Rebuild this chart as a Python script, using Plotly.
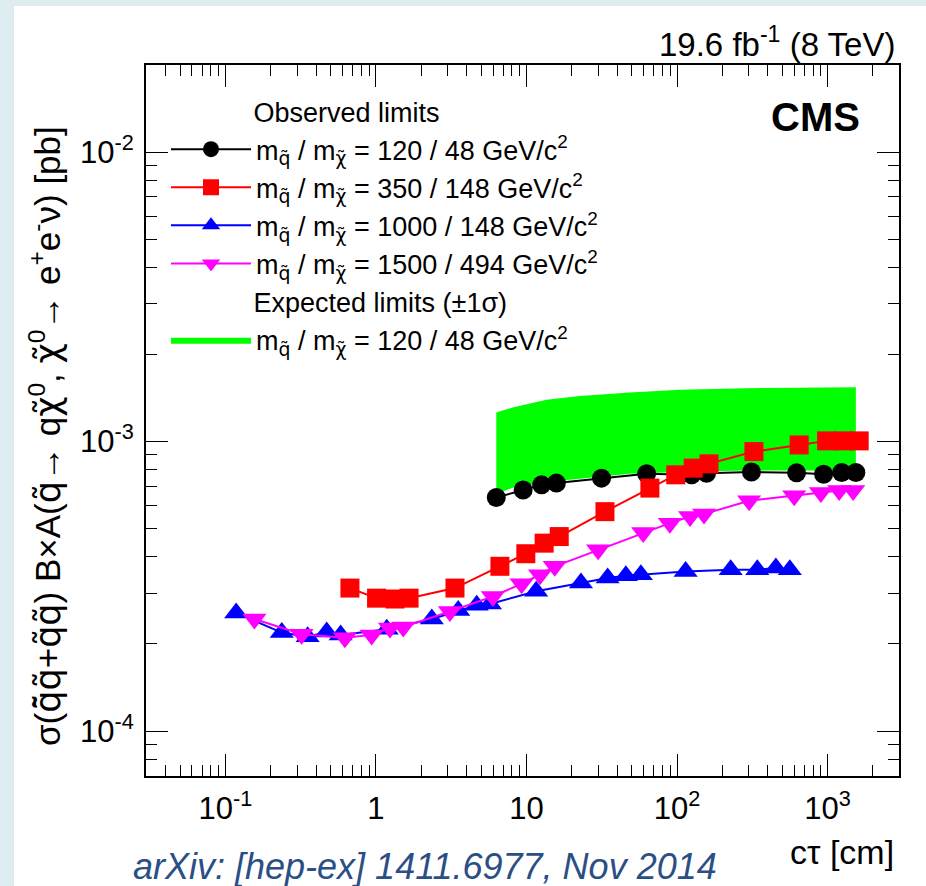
import plotly.graph_objects as go

# ---------------- data ----------------
black_x = [6.3, 9.5, 12.6, 15.8, 31.5, 62.8, 125, 157, 312, 622, 940, 1240, 1540]
black_y = [6.41e-4, 6.81e-4, 7.09e-4, 7.19e-4, 7.48e-4, 7.74e-4, 7.68e-4, 7.78e-4,
           7.85e-4, 7.80e-4, 7.72e-4, 7.82e-4, 7.82e-4]

red_x = [0.672, 1.01, 1.34, 1.66, 3.35, 6.66, 9.9, 13.1, 16.5, 33.2, 66, 98, 128, 163,
         324, 647, 984, 1268, 1620]
red_y = [3.12e-4, 2.88e-4, 2.86e-4, 2.88e-4, 3.12e-4, 3.71e-4, 4.10e-4, 4.46e-4, 4.70e-4,
         5.73e-4, 6.91e-4, 7.68e-4, 8.10e-4, 8.38e-4, 9.24e-4, 9.74e-4, 1.006e-3,
         1.006e-3, 1.006e-3]

blue_x = [0.118, 0.237, 0.352, 0.471, 0.583, 1.18, 2.35, 3.52, 4.67, 5.72, 11.6, 23.0,
          34.6, 45.7, 57.5, 114, 227, 341, 453, 561]
blue_y = [2.56e-4, 2.19e-4, 2.12e-4, 2.20e-4, 2.15e-4, 2.25e-4, 2.44e-4, 2.61e-4,
          2.72e-4, 2.75e-4, 3.04e-4, 3.25e-4, 3.38e-4, 3.44e-4, 3.47e-4, 3.56e-4,
          3.61e-4, 3.61e-4, 3.66e-4, 3.61e-4]

magenta_x = [0.156, 0.321, 0.622, 0.937, 1.24, 1.52, 3.10, 5.98, 9.28, 12.3, 15.4, 29.9,
             59.6, 89.6, 122, 151, 301, 600, 902, 1194, 1478]
magenta_y = [2.44e-4, 2.16e-4, 2.10e-4, 2.15e-4, 2.27e-4, 2.29e-4, 2.59e-4, 2.92e-4,
             3.23e-4, 3.47e-4, 3.71e-4, 4.23e-4, 4.85e-4, 5.23e-4, 5.51e-4, 5.62e-4,
             6.25e-4, 6.50e-4, 6.67e-4, 6.78e-4, 6.78e-4]

band_x = [6.3, 8.2, 13.6, 22.6, 48.6, 104, 290, 1540]
band_hi = [1.26e-3, 1.315e-3, 1.394e-3, 1.439e-3, 1.477e-3, 1.51e-3, 1.53e-3, 1.54e-3]
band_lo = [6.6e-4, 6.95e-4, 7.25e-4, 7.45e-4, 7.75e-4, 7.85e-4, 7.95e-4, 7.95e-4]

x_tickvals = [0.1, 1, 10, 100, 1000]
x_ticktext = ["10<sup>-1</sup>", "1", "10", "10<sup>2</sup>", "10<sup>3</sup>"]
y_tickvals = [1e-4, 1e-3, 1e-2]
y_ticktext = ["10<sup>-4</sup>", "10<sup>-3</sup>", "10<sup>-2</sup>"]

DJ = '<span style="font-family:DejaVu Sans">'
QT = DJ + "q\u0303</span>"
CHIT = DJ + "\u03c7\u0303</span>"
mq = "m<sub>" + QT + "</sub> / m<sub>" + CHIT + "</sub>"
names = [mq + " = 120 / 48 GeV/c<sup>2</sup>",
         mq + " = 350 / 148 GeV/c<sup>2</sup>",
         mq + " = 1000 / 148 GeV/c<sup>2</sup>",
         mq + " = 1500 / 494 GeV/c<sup>2</sup>",
         mq + " = 120 / 48 GeV/c<sup>2</sup>"]
PAD = "&nbsp;" * 11
obs_title = PAD + "Observed limits"
exp_title = PAD + "Expected limits (\u00b11\u03c3)"

FONT = "Liberation Sans, Arial, Helvetica, sans-serif"

fig = go.Figure()

# expected band (drawn first, below the lines)
fig.add_trace(go.Scatter(
    x=band_x + band_x[::-1], y=band_hi + band_lo[::-1],
    fill="toself", fillcolor="#00ff00", mode="lines", line=dict(width=0, color="#00ff00"),
    name=names[4], legendgroup="exp", legendgrouptitle_text=exp_title,
    legendrank=5, hoverinfo="skip"))

series = [
    (black_x, black_y, "#000000", "circle", 19, 1),
    (red_x, red_y, "#ff0000", "square", 19, 2),
    (blue_x, blue_y, "#0000ff", "triangle-up", 21, 3),
    (magenta_x, magenta_y, "#ff00ff", "triangle-down", 21, 4),
]
for (xs, ys, col, sym, sz, rank) in series:
    fig.add_trace(go.Scatter(
        x=xs, y=ys, mode="lines+markers", line=dict(color=col, width=2),
        marker=dict(symbol=sym, size=sz, color=col, line=dict(width=0)),
        name=names[rank - 1], legendgroup="obs", legendgrouptitle_text=obs_title,
        legendrank=rank))

axis_common = dict(
    type="log", showline=True, linewidth=2, linecolor="black", mirror="allticks",
    ticks="inside", ticklen=22, tickwidth=1, tickcolor="black", showgrid=False,
    zeroline=False, tickmode="array",
    minor=dict(ticks="inside", ticklen=11, tickwidth=1, tickcolor="black",
               dtick="D1", showgrid=False),
    tickfont=dict(family=FONT, size=31, color="black"),
)

fig.update_xaxes(**axis_common, range=[-1.527, 3.474], tickvals=x_tickvals,
                 ticktext=x_ticktext, ticklabelstandoff=4)
fig.update_yaxes(**axis_common, range=[-4.155, -1.699], tickvals=y_tickvals,
                 ticktext=y_ticktext, ticklabelstandoff=4)

L, R, T, B = 146, 27, 65, 110
W, H = 926, 886
pw, ph = W - L - R, H - T - B

def px(x):
    return (x - L) / pw

def py(y):
    return (H - B - y) / ph

fig.update_layout(
    width=W, height=H,
    margin=dict(l=L, r=R, t=T, b=B, pad=0),
    paper_bgcolor="#dcecf1", plot_bgcolor="white",
    font=dict(family=FONT, color="black"),
    showlegend=True,
    legend=dict(x=px(166), y=py(87), xanchor="left", yanchor="top",
                bgcolor="rgba(0,0,0,0)", font=dict(family=FONT, size=27),
                grouptitlefont=dict(family=FONT, size=27),
                traceorder="grouped", tracegroupgap=0, itemwidth=80),
    shapes=[dict(type="rect", xref="paper", yref="paper", layer="below",
                 x0=px(14), x1=px(930), y0=py(890), y1=py(6),
                 fillcolor="white", line=dict(width=0))],
    annotations=[
        dict(text="19.6 fb<sup>-1</sup> (8 TeV)", xref="paper", yref="paper",
             x=px(897), y=py(42), xanchor="right", yanchor="middle", showarrow=False,
             font=dict(family=FONT, size=33, color="black")),
        dict(text="<b>CMS</b>", xref="paper", yref="paper",
             x=px(862), y=py(117), xanchor="right", yanchor="middle", showarrow=False,
             font=dict(family=FONT, size=40, color="black")),
        dict(text="c\u03c4 [cm]", xref="paper", yref="paper",
             x=px(896), y=py(852), xanchor="right", yanchor="middle", showarrow=False,
             font=dict(family=FONT, size=34, color="black")),
        dict(text="<i>arXiv: [hep-ex] 1411.6977, Nov 2014</i>", xref="paper", yref="paper",
             x=px(425), y=py(866), xanchor="center", yanchor="middle", showarrow=False,
             font=dict(family=FONT, size=36, color="#2b4f85")),
        dict(text="\u03c3(" + DJ + "q\u0303\u0304q\u0303</span>+" + QT + QT + ") B\u00d7A("
                  + QT + "\u2192 q" + CHIT + "<sup>0</sup>, " + CHIT + "<sup>0</sup>\u2192 "
                  "e<sup>+</sup>e<sup>-</sup>\u03bd) [pb]",
             xref="paper", yref="paper", x=px(45), y=py(436), textangle=-90,
             xanchor="center", yanchor="middle", showarrow=False,
             font=dict(family=FONT, size=35, color="black")),
    ],
)

fig.write_html("out.html")
